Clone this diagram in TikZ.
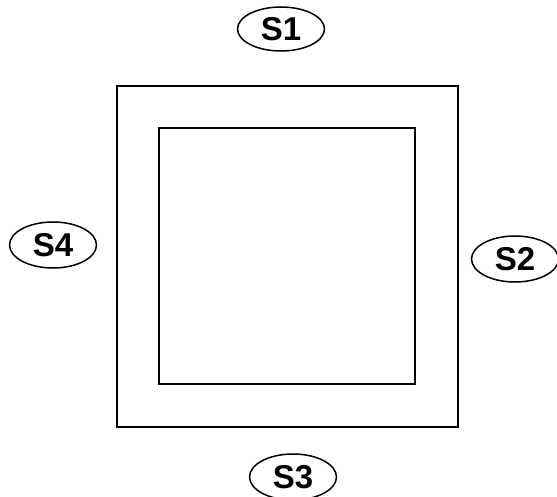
\documentclass[tikz,border=0pt]{standalone}
\usepackage{fontspec}
\setmainfont{Liberation Sans}
\usetikzlibrary{shapes.geometric}
\begin{document}
\begin{tikzpicture}[x=1pt,y=-1pt,
  sq/.style={draw, line width=2pt},
  lab/.style={draw, ellipse, line width=1.5pt, minimum width=87pt, minimum height=46pt, inner sep=0pt, font=\fontsize{33}{33}\selectfont\bfseries}]
\useasboundingbox (0,0) rectangle (557,497);
\draw[sq] (117,86) rectangle (458,427);
\draw[sq] (159,128) rectangle (415,384);
\node[lab, minimum height=44pt] (s1) at (281,29) {S1};
\node[lab] (s2) at (515,259) {S2};
\node[lab] (s3) at (293,477) {S3};
\node[lab] (s4) at (53,245) {S4};
\end{tikzpicture}
\end{document}
